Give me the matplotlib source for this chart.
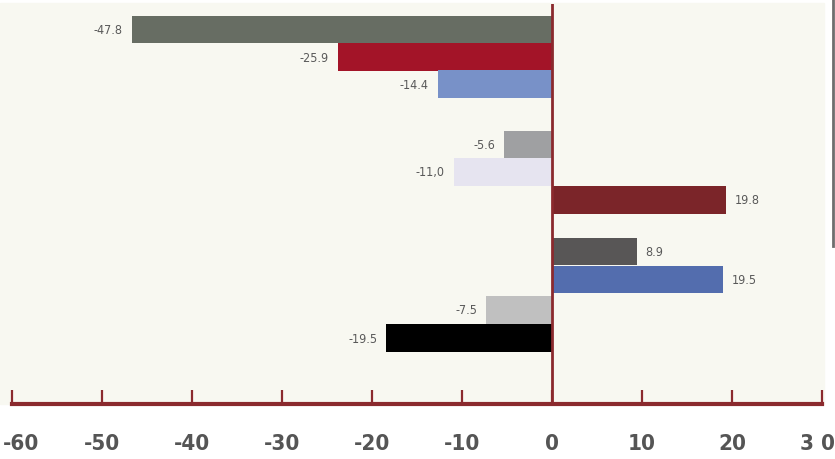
import matplotlib
matplotlib.use("Agg")
import matplotlib.pyplot as plt
import matplotlib.transforms as mtransforms
from matplotlib.patches import Rectangle
from matplotlib.lines import Line2D

values = [-46.7, -23.8, -12.7, -5.3, -10.9, 19.3, 9.4, 19.0, -7.3, -18.4]
labels = ["-47.8", "-25.9", "-14.4", "-5.6", "-11,0", "19.8", "8.9", "19.5", "-7.5", "-19.5"]
colors = ["#676d63", "#a31428", "#7891c8", "#9fa0a2", "#e6e4f0",
          "#7b2529", "#585656", "#536dae", "#c0c0c0", "#000000"]
positions = [0, 1.0, 1.98, 4.17, 5.16, 6.18, 8.04, 9.06, 10.16, 11.18]
xticks = [-60, -50, -40, -30, -20, -10, 0, 10, 20, 30]
xticklabels = ["-60", "-50", "-40", "-30", "-20", "-10", "0", "10", "20", "3 0"]

W, H = 835, 460
fig = plt.figure(figsize=(W / 100, H / 100), dpi=100)
fig.patch.set_facecolor("white")

# panel de fondo
fig.patches.append(Rectangle((0, (H - 405) / H), 824 / W, (405 - 4) / H,
                             transform=fig.transFigure, color="#f8f8f1", zorder=-5))
# línea gris a la derecha
fig.lines.append(Line2D([833 / W, 833 / W], [1, (H - 247) / H],
                        transform=fig.transFigure, color="#6e6e6e", lw=2))

ax = fig.add_axes([12 / W, (H - 405) / H, (822 - 12) / W, (405 - 5) / H])
ax.set_facecolor("none")

ax.barh(positions, values, height=1.0, color=colors, zorder=2)
ax.axvline(0, color="#8b2a2e", lw=2, zorder=3)

ax.set_xlim(-60, 30)
ax.set_ylim(13.57, -0.92)

fam = ["DejaVu Sans"]
ppx = 90 / (822 - 12)  # unidades por pixel
for p, v, t in zip(positions, values, labels):
    if v < 0:
        ax.text(v - 9 * ppx, p, t, ha="right", va="center", fontsize=9,
                color="#595959", family=fam, fontstretch="condensed")
    else:
        ax.text(v + 9 * ppx, p, t, ha="left", va="center", fontsize=9,
                color="#595959", family=fam, fontstretch="condensed")

for s in ["top", "left", "right"]:
    ax.spines[s].set_visible(False)
ax.spines["bottom"].set_color("#8b2a2e")
ax.spines["bottom"].set_linewidth(3)
ax.spines["bottom"].set_zorder(4)
ax.set_yticks([])
ax.set_xticks(xticks)
ax.set_xticklabels(xticklabels, fontsize=16, fontweight="bold", color="#555555",
                   family=fam, fontstretch="condensed")
ax.tick_params(axis="x", direction="in", length=10, width=1.6, color="#8b2a2e", pad=21)

# primera y última etiqueta algo desplazadas para que quepan, como en el original
ticklabs = ax.get_xticklabels()
for lab, dx in [(ticklabs[0], 9), (ticklabs[-1], -5)]:
    lab.set_transform(lab.get_transform() +
                      mtransforms.ScaledTranslation(dx / 100, 0, fig.dpi_scale_trans))

fig.savefig("out.png", dpi=100)
